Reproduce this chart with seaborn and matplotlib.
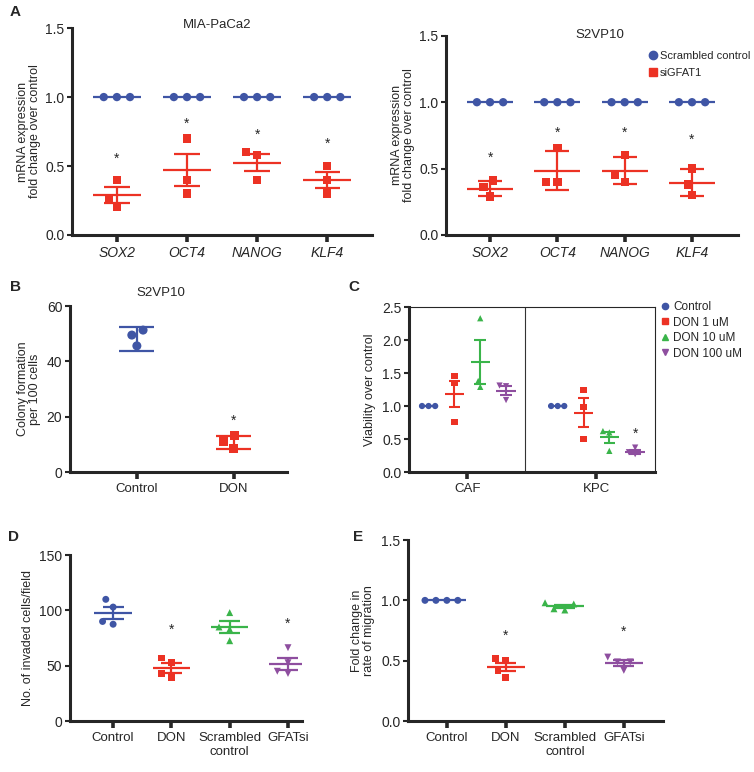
import numpy as np
import pandas as pd
import seaborn as sns
import matplotlib.pyplot as plt
from matplotlib.lines import Line2D

sns.set_theme(style="ticks")
plt.rcParams['font.family'] = ['Liberation Sans', 'DejaVu Sans']

BLUE = '#3F55A5'
RED = '#EC3224'
GREEN = '#3AB44A'
PURPLE = '#8E4E9F'

# ---- panel A data ----
genes = ['SOX2', 'OCT4', 'NANOG', 'KLF4']
a_legend = ['Scrambled control', 'siGFAT1']

mia_scr = [[1.0, 1.0, 1.0], [1.0, 1.0, 1.0], [1.0, 1.0, 1.0], [1.0, 1.0, 1.0]]
mia_si = [[0.40, 0.265, 0.205], [0.70, 0.40, 0.30], [0.60, 0.58, 0.40], [0.50, 0.40, 0.30]]
mia_si_mean = [0.29, 0.47, 0.525, 0.40]
mia_si_err = [0.057, 0.118, 0.064, 0.057]
mia_star = [0.58, 0.84, 0.76, 0.69]

s2_scr = [[1.0, 1.0, 1.0], [1.0, 1.0, 1.0], [1.0, 1.0, 1.0], [1.0, 1.0, 1.0]]
s2_si = [[0.41, 0.36, 0.29], [0.655, 0.40, 0.40], [0.60, 0.45, 0.40], [0.50, 0.38, 0.30]]
s2_si_mean = [0.35, 0.485, 0.485, 0.395]
s2_si_err = [0.053, 0.145, 0.104, 0.10]
s2_star = [0.61, 0.80, 0.80, 0.745]

# ---- panel B data ----
b_groups = ['Control', 'DON']
b_vals = [[51.3, 49.5, 45.6], [13.1, 11.0, 8.6]]
b_mean = [48.1, 10.7]
b_err = [4.4, 2.4]
b_star = [None, 20.0]

# ---- panel C data ----
c_cells = ['CAF', 'KPC']
c_groups = ['Control', 'DON 1 uM', 'DON 10 uM', 'DON 100 uM']
c_caf = [[1.0, 1.0, 1.0], [1.45, 1.35, 0.76], [2.33, 1.38, 1.29], [1.31, 1.30, 1.09]]
c_kpc = [[1.0, 1.0, 1.0], [1.24, 0.98, 0.50], [0.62, 0.60, 0.32], [0.37, 0.30, 0.27]]
c_caf_mean = [1.0, 1.18, 1.67, 1.23]
c_caf_err = [0.0, 0.20, 0.33, 0.07]
c_kpc_mean = [1.0, 0.90, 0.525, 0.31]
c_kpc_err = [0.0, 0.215, 0.085, 0.03]
c_kpc_star = [None, None, None, 0.636]

# ---- panels D / E data ----
de_groups = ['Control', 'DON', 'Scrambled\ncontrol', 'GFATsi']
d_vals = [[110, 103, 90, 87.5], [57, 52.7, 43, 39.5], [98, 85, 83, 72.6], [66.3, 52.7, 45, 43]]
d_mean = [97.5, 47.8, 85.0, 51.5]
d_err = [5.3, 4.7, 5.0, 5.3]
d_star = [None, 86.5, None, 91.3]

e_vals = [[1.0, 1.0, 1.0, 1.0], [0.52, 0.50, 0.42, 0.36], [0.98, 0.97, 0.93, 0.92], [0.53, 0.49, 0.49, 0.42]]
e_mean = [1.0, 0.45, 0.95, 0.483]
e_err = [0.0, 0.033, 0.015, 0.023]
e_star = [None, 0.74, None, 0.773]

de_colors = [BLUE, RED, GREEN, PURPLE]
de_markers = ['o', 's', '^', 'v']


def long_df(cats, vals):
    return pd.DataFrame({'cat': np.repeat(cats, [len(v) for v in vals]),
                         'val': np.concatenate(vals)})


def style(ax, xlim, ylim, yticks, xfs=9.5, italic=False):
    ax.set_xlim(*xlim)
    ax.set_ylim(*ylim)
    ax.set_yticks(yticks)
    for s in ['top', 'right']:
        ax.spines[s].set_visible(False)
    for s in ['left', 'bottom']:
        ax.spines[s].set_linewidth(2.2)
    ax.tick_params(axis='y', width=1.5, length=3.5, labelsize=10, pad=2)
    ax.tick_params(axis='x', width=2.6, length=5, labelsize=xfs, pad=3)
    ax.set_xlabel('')
    if italic:
        for t in ax.get_xticklabels():
            t.set_fontstyle('italic')


def mean_sem(ax, xs, means, errs, color, half=0.33, cap=0.18, lw=1.6, draw_mean=True):
    xs = np.asarray(xs, float)
    m = np.asarray(means, float)
    e = np.asarray(errs, float)
    if draw_mean:
        ax.hlines(m, xs - half, xs + half, color=color, lw=lw, zorder=4)
    k = e > 0
    ax.vlines(xs[k], (m - e)[k], (m + e)[k], color=color, lw=lw, zorder=4)
    ax.hlines((m - e)[k], xs[k] - cap, xs[k] + cap, color=color, lw=lw, zorder=4)
    ax.hlines((m + e)[k], xs[k] - cap, xs[k] + cap, color=color, lw=lw, zorder=4)


def stars(ax, xs, ys, fs=10):
    for x, y in zip(xs, ys):
        if y is not None:
            ax.annotate('*', (x, y), xytext=(0, -3), textcoords='offset points',
                        ha='center', va='center', fontsize=fs)


fig = plt.figure(figsize=(7.54, 7.72), dpi=100)

# ---------------- A ----------------
for pos, xlim, scr, si, mean, err, star, title, tpos in [
    ([0.0955, 0.6956, 0.398, 0.268], (-0.64, 3.64), mia_scr, mia_si, mia_si_mean, mia_si_err,
     mia_star, 'MIA-PaCa2', (217, 25)),
    ([0.5915, 0.6956, 0.387, 0.258], (-0.654, 3.68), s2_scr, s2_si, s2_si_mean, s2_si_err,
     s2_star, 'S2VP10', (600, 35)),
]:
    ax = fig.add_axes(pos)
    sns.swarmplot(data=long_df(genes, scr), x='cat', y='val', order=genes, color=BLUE,
                  marker='o', size=6, linewidth=3, edgecolor='none', ax=ax)
    sns.swarmplot(data=long_df(genes, si), x='cat', y='val', order=genes, color=RED,
                  marker='s', size=6, linewidth=2, edgecolor='none', ax=ax)
    xs = np.arange(len(genes))
    mean_sem(ax, xs, [np.mean(v) for v in scr], [0] * 4, BLUE, half=0.34)
    mean_sem(ax, xs, mean, err, RED, half=0.34, cap=0.18)
    stars(ax, xs, star)
    style(ax, xlim, (0, 1.5), [0, 0.5, 1.0, 1.5], xfs=10, italic=True)
    ax.set_ylabel('mRNA expression\nfold change over control', fontsize=9, labelpad=3, linespacing=1.0)
    fig.text(tpos[0] / 754, 1 - tpos[1] / 772, title, ha='center', va='center', fontsize=9.5)

fig.legend([Line2D([], [], ls='', marker='o', color=BLUE, ms=6),
            Line2D([], [], ls='', marker='s', color=RED, ms=6)], a_legend,
           loc='upper left', bbox_to_anchor=(649 / 754, 1 - 51 / 772), frameon=False,
           fontsize=8, handlelength=0.7, handletextpad=0.25, borderpad=0,
           borderaxespad=0, labelspacing=0.65)

# ---------------- B ----------------
ax = fig.add_axes([0.0928, 0.3886, 0.288, 0.215])
for i, (g, v) in enumerate(zip(b_groups, b_vals)):
    sns.swarmplot(data=long_df([g], [v]), x='cat', y='val', order=b_groups,
                  color=[BLUE, RED][i], marker=['o', 's'][i], size=6.5, linewidth=2,
                  edgecolor='none', ax=ax)
    mean_sem(ax, [i], [b_mean[i]], [b_err[i]], [BLUE, RED][i], cap=0.18, draw_mean=False)
stars(ax, range(2), b_star)
style(ax, (-0.69, 1.55), (0, 60), [0, 20, 40, 60])
ax.set_ylabel('Colony formation\nper 100 cells', fontsize=9, labelpad=4, linespacing=1.0)
fig.text(161 / 754, 1 - 293 / 772, 'S2VP10', ha='center', va='center', fontsize=9.5)

# ---------------- C ----------------
ax = fig.add_axes([0.5424, 0.3886, 0.326, 0.2137])
c_df = pd.concat([
    pd.DataFrame({'cell': c, 'grp': np.repeat(c_groups, 3), 'val': np.concatenate(v)})
    for c, v in zip(c_cells, [c_caf, c_kpc])])
pal = dict(zip(c_groups, de_colors))
for g, mk in zip(c_groups, de_markers):
    sns.swarmplot(data=c_df[c_df.grp == g], x='cell', y='val', hue='grp', order=c_cells,
                  hue_order=c_groups, palette=pal, dodge=True, marker=mk, size=4.5,
                  linewidth=0, ax=ax, legend=False)
offs = np.linspace(-0.3, 0.3, len(c_groups))
for j, col in enumerate(de_colors):
    xs = np.arange(len(c_cells)) + offs[j]
    mean_sem(ax, xs, [c_caf_mean[j], c_kpc_mean[j]], [c_caf_err[j], c_kpc_err[j]], col,
             half=0.075, cap=0.045, lw=1.5)
stars(ax, 1 + offs, c_kpc_star)
style(ax, (-0.452, 1.452), (0, 2.5), [0, 0.5, 1.0, 1.5, 2.0, 2.5])
for s in ['top', 'right']:
    ax.spines[s].set_visible(True)
    ax.spines[s].set_linewidth(0.8)
ax.axvline(0.45, color='#333333', lw=0.8)
ax.set_ylabel('Viability over control', fontsize=9, labelpad=4)
fig.legend([Line2D([], [], ls='', marker=m, color=c, ms=4.5) for m, c in zip(de_markers, de_colors)],
           c_groups, loc='upper left', bbox_to_anchor=(660 / 754, 1 - 301 / 772), frameon=False,
           fontsize=8.5, handlelength=0.8, handletextpad=0.3, borderpad=0,
           borderaxespad=0, labelspacing=0.3)

# ---------------- D / E ----------------
for pos, xlim, ylim, yticks, vals, mean, err, star, ylab in [
    ([0.0928, 0.066, 0.3077, 0.215], (-0.74, 3.24), (0, 150), [0, 50, 100, 150],
     d_vals, d_mean, d_err, d_star, 'No. of invaded cells/field'),
    ([0.541, 0.066, 0.338, 0.2345], (-0.66, 3.66), (0, 1.5), [0, 0.5, 1.0, 1.5],
     e_vals, e_mean, e_err, e_star, 'Fold change in\nrate of migration'),
]:
    ax = fig.add_axes(pos)
    for i, g in enumerate(de_groups):
        sns.swarmplot(data=long_df([g], [vals[i]]), x='cat', y='val', order=de_groups,
                      color=de_colors[i], marker=de_markers[i], size=5, linewidth=2.5,
                      edgecolor='none', ax=ax)
        mean_sem(ax, [i], [mean[i]], [err[i]], de_colors[i], half=0.32, cap=0.18)
    stars(ax, range(4), star)
    style(ax, xlim, ylim, yticks)
    ax.set_ylabel(ylab, fontsize=9, labelpad=4, linespacing=1.0)

for lab, x, y in [('A', 10, 12), ('B', 10, 287), ('C', 348, 287), ('D', 8, 537), ('E', 353, 537)]:
    fig.text(x / 754, 1 - y / 772, lab, fontsize=11, fontweight='bold', ha='left', va='center')

fig.savefig('out.png', dpi=100)
